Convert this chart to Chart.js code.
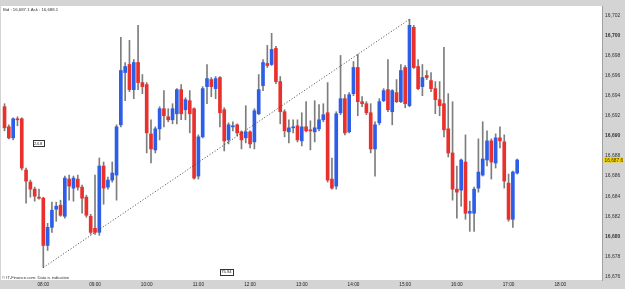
<!DOCTYPE html>
<html><head><meta charset="utf-8">
<script src="https://cdn.jsdelivr.net/npm/chart.js@4.4.1/dist/chart.umd.min.js"></script>
<style>html,body{margin:0;padding:0;background:#fff;}canvas{display:block;}</style>
</head><body>
<canvas id="c" width="625" height="289"></canvas>
<script>
// 5-minute candles; slot 0 = 08:00, first candle is slot -9 (07:15)
const firstSlot = -9;
const timeTicks = ["08:00","09:00","10:00","11:00","12:00","13:00","14:00","15:00","16:00","17:00","18:00"];
const priceTicks = [16676,16678,16680,16682,16684,16686,16688,16690,16692,16694,16696,16698,16700,16702];
const open = [16692.9,16690.9,16689.8,16691.7,16691.7,16686.6,16685.4,16684.7,16683.9,
16683.8,16679.1,16680.9,16682.7,16683.1,16682.0,16685.7,16684.8,16685.7,16684.9,16683.9,16682.0,
16680.8,16680.4,16687.0,16684.9,16685.6,16686.1,16691.1,16696.3,16697.1,16694.6,16697.3,16695.3,
16695.1,16690.2,16688.6,16690.7,16692.7,16691.9,16691.6,16692.2,16694.6,16692.6,16693.5,16692.7,
16686.0,16689.9,16694.9,16695.6,16694.7,16695.8,16692.6,16689.6,16690.9,16691.1,16690.4,16689.8,
16690.4,16689.4,16692.2,16695.0,16697.2,16697.1,16698.7,16695.4,16692.4,16690.4,16690.8,16691.0,
16689.5,16690.9,16690.6,16690.4,16690.7,16691.6,16692.3,16685.7,16685.0,16692.3,16693.7,16690.4,
16694.2,16696.8,16693.4,16693.2,16692.3,16688.7,16691.3,16693.5,16694.6,16692.4,16694.3,16693.4,
16696.8,16693.0,16700.8,16696.9,16694.9,16696.0,16695.5,16694.7,16693.6,16693.2,16690.7,16688.3,
16684.7,16684.6,16687.4,16682.3,16682.3,16684.8,16686.1,16687.6,16689.5,16687.3,16689.8,16689.4,
16685.3,16681.7,16686.3];
const high = [16693.2,16691.1,16691.8,16691.9,16691.8,16686.8,16685.6,16684.9,16684.7,
16683.9,16681.3,16683.4,16683.4,16683.6,16686.0,16686.1,16686.0,16686.1,16685.1,16684.1,16682.2,
16686.1,16687.8,16687.4,16685.9,16687.4,16691.1,16699.8,16697.3,16699.5,16697.6,16701.0,16696.1,
16695.3,16691.6,16690.9,16692.9,16694.5,16692.7,16693.2,16694.7,16695.1,16693.8,16694.5,16692.8,
16690.1,16694.9,16697.1,16695.8,16695.9,16695.9,16692.8,16691.3,16691.4,16691.2,16690.5,16693.0,
16690.5,16692.7,16696.1,16697.6,16699.0,16700.2,16698.9,16695.9,16692.6,16691.6,16691.6,16691.6,
16692.3,16693.4,16691.5,16693.5,16693.1,16693.2,16695.3,16687.8,16692.4,16698.0,16694.1,16694.3,
16697.4,16698.1,16693.9,16693.4,16693.2,16691.4,16693.7,16694.7,16697.6,16694.6,16695.6,16697.1,
16697.0,16701.6,16701.0,16697.6,16697.1,16696.5,16696.3,16695.4,16695.4,16698.8,16694.2,16693.4,
16687.0,16687.7,16690.1,16683.5,16684.9,16689.7,16691.4,16690.5,16689.7,16690.2,16690.9,16690.1,
16686.2,16686.5,16687.7];
const low = [16690.5,16689.7,16689.6,16691.0,16686.6,16683.3,16683.9,16683.5,16683.7,
16676.9,16678.6,16680.4,16681.5,16682.0,16681.8,16683.6,16683.5,16684.6,16682.3,16681.9,16680.2,
16680.2,16680.1,16683.2,16684.7,16685.4,16683.6,16690.9,16693.5,16694.4,16693.7,16694.6,16694.2,
16688.3,16687.3,16688.3,16689.6,16690.9,16691.4,16691.2,16691.2,16691.6,16691.6,16690.3,16685.7,
16685.7,16689.8,16693.2,16693.9,16693.7,16690.9,16688.5,16689.2,16690.5,16690.0,16688.7,16689.3,
16688.8,16688.7,16692.1,16694.5,16696.8,16697.0,16695.2,16691.2,16689.9,16689.3,16690.3,16689.4,
16689.0,16690.4,16688.6,16689.4,16690.5,16691.4,16685.4,16684.7,16684.7,16692.1,16690.1,16690.3,
16694.0,16692.0,16692.9,16692.1,16688.3,16686.0,16691.1,16693.4,16692.4,16691.1,16693.3,16693.3,
16692.8,16692.9,16696.7,16694.6,16694.0,16695.6,16694.4,16692.2,16692.0,16689.9,16687.9,16683.6,
16681.8,16683.0,16681.7,16680.5,16680.5,16684.4,16686.0,16687.0,16685.7,16686.8,16688.8,16684.8,
16681.5,16680.9,16686.2];
const close = [16690.8,16689.8,16691.7,16691.6,16686.8,16685.5,16684.7,16684.0,16683.8,
16679.1,16680.9,16682.6,16683.0,16682.1,16685.8,16685.0,16685.8,16684.9,16683.8,16682.1,16680.4,
16680.4,16687.0,16684.8,16685.6,16686.3,16690.9,16696.5,16696.9,16694.6,16697.3,16695.3,16694.9,
16690.3,16688.7,16690.7,16692.7,16692.0,16691.6,16692.7,16694.6,16692.2,16693.6,16692.2,16685.8,
16689.9,16694.7,16695.7,16694.9,16695.7,16692.3,16689.5,16691.1,16690.9,16690.3,16689.6,16690.4,
16689.2,16692.5,16694.6,16697.3,16697.0,16698.6,16695.4,16692.4,16690.5,16690.8,16690.8,16689.6,
16690.9,16690.5,16690.5,16690.8,16691.6,16692.1,16685.6,16684.8,16692.2,16693.7,16690.3,16694.1,
16696.8,16693.4,16693.2,16692.3,16688.7,16691.1,16693.4,16694.5,16692.6,16694.5,16693.4,16696.5,
16693.2,16701.0,16696.8,16694.7,16695.8,16695.8,16694.7,16693.6,16693.0,16690.6,16688.3,16684.7,
16684.4,16687.6,16682.3,16682.5,16684.7,16686.4,16687.7,16689.5,16687.4,16689.8,16689.5,16685.5,
16681.7,16686.4,16687.6];
const headerText = "Bid : 16,687.1 Ask : 16,688.1";
const footerText = "\u00A9 IT-Finance.com: Data is indicative";
const noteTexts = ["24.8", "75.94"];
const noteSlots = [-1.2, 42.5];
const notePrices = [16689.26, 16676.5];
const trendFrom = 0, trendTo = 85;

const UP = '#2d5ee8', DOWN = '#e8302c', WICK = '#7d7d7d';
const FONT = "'Liberation Sans', Arial, sans-serif";

function fmt(v, dec) {
  const s = v.toFixed(dec || 0);
  const parts = s.split('.');
  const ip = parts[0].slice(0, parts[0].length - 3) + ',' + parts[0].slice(-3);
  return parts.length > 1 ? ip + '.' + parts[1] : ip;
}

const slots = open.map((_, k) => k + firstSlot);
const wickData = slots.map((x, k) => ({x: x, y: [low[k], high[k]]}));
const bodyData = slots.map((x, k) => ({x: x, y: [open[k], close[k]]}));
const bodyColors = open.map((o, k) => close[k] >= o ? UP : DOWN);

const bgPlugin = {
  id: 'bg',
  beforeDraw(c) {
    const {ctx, chartArea: a} = c;
    ctx.save();
    ctx.fillStyle = '#d4d4d4';
    ctx.fillRect(0, 0, c.width, c.height);
    ctx.fillStyle = '#ffffff';
    ctx.fillRect(a.left, a.top, a.right - a.left, a.bottom - a.top);
    ctx.restore();
  }
};

const overlayPlugin = {
  id: 'overlay',
  afterDraw(c) {
    const {ctx, chartArea: a} = c;
    const xs = c.scales.x, ys = c.scales.y;
    ctx.save();
    ctx.textBaseline = 'middle';
    ctx.fillStyle = '#333';
    ctx.font = '4.3px ' + FONT;
    ctx.textAlign = 'left';
    ctx.fillText(headerText, a.left + 2, a.top + 4);
    ctx.font = '4.2px ' + FONT;
    ctx.fillText(footerText, a.left + 1, a.bottom - 2.5);
    // notes
    ctx.font = '4.2px ' + FONT;
    ctx.textAlign = 'center';
    noteTexts.forEach((t, k) => {
      const px = xs.getPixelForValue(noteSlots[k]);
      const py = ys.getPixelForValue(notePrices[k]);
      const w = ctx.measureText(t).width + 3;
      const h = 6;
      ctx.fillStyle = '#fff';
      ctx.fillRect(Math.round(px - w / 2) + 0.5, Math.round(py - h / 2) + 0.5, Math.round(w), h);
      ctx.strokeStyle = '#333';
      ctx.lineWidth = 1;
      ctx.strokeRect(Math.round(px - w / 2) + 0.5, Math.round(py - h / 2) + 0.5, Math.round(w), h);
      ctx.fillStyle = '#222';
      ctx.fillText(t, px, py + 0.5);
    });
    // last price label
    const last = close[close.length - 1];
    const ly = ys.getPixelForValue(last);
    ctx.fillStyle = '#f3d400';
    ctx.fillRect(a.right + 2, ly - 2.5, 19, 5);
    ctx.fillStyle = '#3a2e00';
    ctx.font = '4.8px ' + FONT;
    ctx.textAlign = 'left';
    ctx.fillText(fmt(last, 1), a.right + 2.5, ly + 0.2);
    ctx.restore();
  }
};

new Chart(document.getElementById('c'), {
  type: 'bar',
  data: {
    datasets: [
      {
        type: 'line',
        data: [
          {x: trendFrom, y: low[trendFrom - firstSlot]},
          {x: trendTo, y: high[trendTo - firstSlot]}
        ],
        borderColor: '#444',
        borderWidth: 1,
        borderDash: [1, 2],
        pointRadius: 0,
        fill: false,
        order: 0
      },
      {
        data: wickData,
        backgroundColor: WICK,
        barThickness: 1,
        grouped: false,
        order: 2
      },
      {
        data: bodyData,
        backgroundColor: bodyColors,
        barThickness: 3,
        grouped: false,
        minBarLength: 1,
        order: 1
      }
    ]
  },
  options: {
    responsive: false,
    animation: false,
    devicePixelRatio: 1,
    layout: {padding: {left: 1, top: 0, right: 0, bottom: 0}},
    plugins: {legend: {display: false}, tooltip: {enabled: false}},
    scales: {
      x: {
        type: 'linear',
        min: -9.82,
        max: 129.69,
        offset: false,
        grid: {display: false, drawTicks: false},
        border: {display: false},
        afterBuildTicks: s => { s.ticks = timeTicks.map((t, k) => ({value: k * 12})); },
        ticks: {
          callback: v => timeTicks[Math.round(v / 12)],
          font: {size: 4.7, family: FONT},
          color: '#222',
          padding: 2,
          autoSkip: false,
          maxRotation: 0
        },
        afterFit: s => { s.height = 9; }
      },
      y: {
        position: 'right',
        min: 16675.66,
        max: 16702.92,
        grid: {display: false, drawTicks: false},
        border: {display: true, color: '#a0a0a0'},
        afterBuildTicks: s => { s.ticks = priceTicks.map(v => ({value: v})); },
        ticks: {
          callback: v => fmt(v),
          font: ctx => ({size: 5, family: FONT, weight: (ctx.tick && ctx.tick.value % 10 === 0) ? 'bold' : 'normal'}),
          color: '#333',
          padding: 3,
          autoSkip: false
        },
        afterFit: s => { s.width = 23; }
      }
    }
  },
  plugins: [bgPlugin, overlayPlugin]
});
</script>
</body></html>
